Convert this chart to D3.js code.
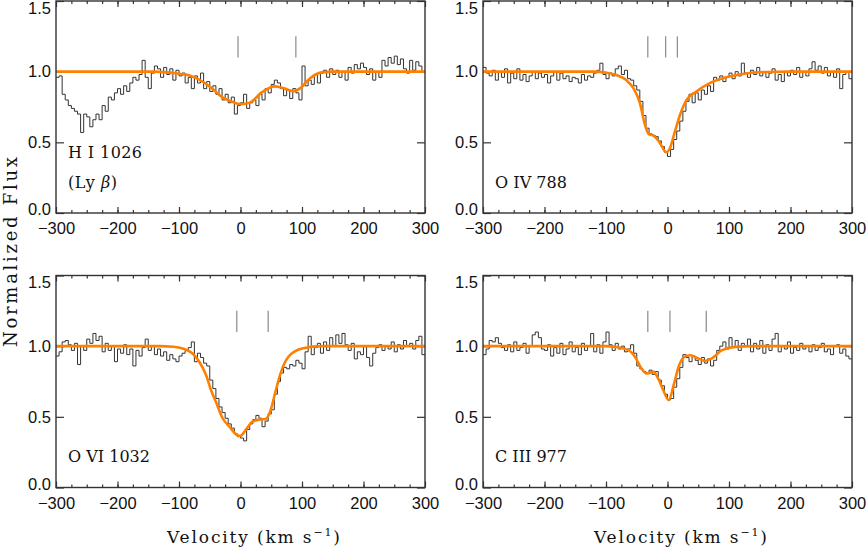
<!DOCTYPE html>
<html>
<head>
<meta charset="utf-8">
<script src="https://d3js.org/d3.v7.min.js"></script>
<style>
  body { margin: 0; background: #fff; }
  svg { display: block; }
</style>
</head>
<body>
<svg width="867" height="550"></svg>
<script>
// velocity bins (left edge, km/s), 5 km/s wide
var velocity = d3.range(-300, 300, 5);

var hiFlux = [0.96,0.97,0.84,0.80,0.76,0.74,0.72,0.70,0.57,0.70,0.68,0.61,0.66,0.70,0.66,0.76,0.72,0.82,0.80,0.85,
  0.88,0.84,0.90,0.86,0.92,0.96,0.94,0.98,1.08,0.96,0.88,0.99,1.04,1.02,0.96,1.03,0.98,1.02,0.94,1.01,
  0.97,0.99,0.92,0.96,0.88,0.97,0.92,0.99,0.88,0.93,0.86,0.90,0.84,0.88,0.80,0.84,0.78,0.82,0.70,0.76,
  0.78,0.84,0.74,0.78,0.80,0.76,0.84,0.80,0.88,0.85,0.91,0.94,0.92,0.88,0.83,0.87,0.81,0.88,0.85,0.80,
  1.04,0.90,0.94,0.91,0.98,0.92,0.99,1.01,0.96,1.02,0.98,1.01,0.96,1.00,0.94,1.03,0.99,1.05,1.02,1.06,
  1.03,0.98,1.02,0.94,1.00,0.96,1.08,1.04,1.10,1.06,1.11,1.05,1.09,1.02,0.99,1.08,1.01,1.07,1.04,1.00];

var oivFlux = [1.03,0.99,0.97,1.01,0.94,1.00,0.96,1.02,0.92,0.99,0.95,1.02,0.94,0.98,0.93,0.97,1.00,0.95,0.99,0.96,
  0.98,0.92,0.97,1.00,0.94,0.99,0.95,0.97,0.93,0.96,0.95,0.92,0.98,0.94,0.97,0.96,0.99,1.01,1.06,0.98,
  0.95,0.99,0.97,1.02,1.04,0.98,1.01,0.95,0.94,0.90,0.87,0.79,0.69,0.60,0.56,0.55,0.54,0.51,0.47,0.43,
  0.40,0.45,0.52,0.58,0.65,0.72,0.79,0.84,0.78,0.85,0.80,0.87,0.84,0.90,0.86,0.96,0.94,0.97,0.93,0.96,
  0.99,0.95,1.00,0.97,1.06,0.99,0.96,1.01,0.98,1.03,0.97,1.00,0.96,0.99,1.02,0.94,0.98,0.93,1.00,0.97,
  1.01,0.98,1.03,0.96,1.00,0.97,1.02,1.07,1.01,1.04,0.99,1.03,0.97,1.00,0.96,1.02,0.88,0.98,1.00,0.95];

var oviFlux = [0.93,0.96,1.03,1.04,1.01,0.97,1.02,0.87,1.00,0.97,1.05,1.02,1.09,1.04,1.07,0.96,1.02,0.97,1.00,0.89,
  0.98,0.95,1.01,0.94,0.98,0.86,0.97,0.93,0.99,1.05,0.97,1.00,0.94,0.98,0.93,0.96,0.90,0.94,0.91,0.89,
  0.93,0.95,0.97,0.99,1.03,0.89,0.95,0.92,0.88,0.86,0.76,0.70,0.63,0.57,0.53,0.49,0.45,0.42,0.38,0.36,
  0.35,0.33,0.41,0.45,0.48,0.51,0.49,0.43,0.47,0.52,0.55,0.66,0.75,0.81,0.85,0.84,0.87,0.86,0.90,0.88,
  0.84,0.96,1.07,0.94,0.99,1.02,0.95,1.03,0.97,1.06,1.00,1.08,1.02,1.09,1.01,0.97,1.02,0.91,0.96,0.94,
  1.00,0.92,0.86,0.95,0.99,1.01,0.97,1.00,0.98,1.03,0.96,1.01,0.98,1.04,1.00,1.02,0.98,1.04,1.07,0.94];

var ciiiFlux = [0.94,0.98,1.04,1.03,1.06,1.02,0.99,0.97,1.01,0.96,1.03,0.97,0.99,1.02,0.95,1.00,1.08,1.10,1.06,0.98,
  0.97,1.01,0.93,0.99,0.95,1.02,0.94,0.98,1.03,0.96,0.99,0.94,1.02,0.97,1.00,1.09,0.96,1.01,0.95,1.03,
  1.10,1.01,0.97,1.02,0.98,1.00,0.96,0.98,1.01,0.95,0.86,0.84,0.82,0.81,0.83,0.80,0.82,0.76,0.72,0.66,
  0.62,0.63,0.71,0.77,0.85,0.94,0.92,0.89,0.93,0.90,0.87,0.92,0.88,0.91,0.86,0.90,0.97,1.00,1.03,0.98,
  1.06,0.99,1.04,0.97,1.02,1.00,1.05,0.96,1.02,0.98,1.04,0.95,1.01,0.97,1.05,1.09,0.96,1.00,0.98,1.03,
  0.95,0.99,0.97,1.02,0.98,1.00,0.96,1.01,0.97,0.99,1.02,0.96,0.98,0.94,1.00,1.01,0.95,0.98,0.93,0.91];

// profile fits, [velocity, flux]
var hiFit = [[-300,1],[-140,1],[-120,0.995],[-100,0.985],[-84,0.974],[-60,0.925],[-46,0.88],[-30,0.82],[-15,0.79],
  [0,0.77],[15,0.78],[35,0.855],[56,0.896],[72,0.88],[86,0.862],[98,0.885],[111,0.945],[122,0.98],[132,0.995],[150,1],[300,1]];
var oivFit = [[-300,1],[-120,1],[-100,0.993],[-83,0.976],[-67,0.94],[-55,0.88],[-45,0.78],[-37,0.63],[-31,0.56],
  [-22,0.545],[-13,0.5],[-2,0.43],[3,0.45],[12,0.575],[20,0.69],[31,0.80],[47,0.86],[68,0.917],[90,0.953],[117,0.98],[160,0.998],[200,1],[300,1]];
var oviFit = [[-300,1],[-130,1],[-110,0.996],[-94,0.984],[-78,0.948],[-67,0.89],[-56,0.795],[-48,0.69],[-40,0.606],
  [-29,0.49],[-18,0.43],[-5,0.37],[0,0.365],[8,0.405],[19,0.465],[30,0.48],[41,0.485],[49,0.547],[57,0.68],[65,0.806],[78,0.925],[100,0.983],[133,1],[300,1]];
var ciiiFit = [[-300,1],[-100,1],[-85,0.995],[-63,0.97],[-53,0.925],[-42,0.84],[-34,0.807],[-23,0.818],[-15,0.77],
  [-7,0.69],[2,0.618],[10,0.724],[18,0.853],[26,0.92],[37,0.936],[50,0.913],[61,0.896],[72,0.913],[88,0.97],[110,0.995],[142,1],[300,1]];

// component velocities
var hiComps = [-4, 90];
var oivComps = [-32, -3, 16];
var oviComps = [-6, 45];
var ciiiComps = [-32, 4, 63];

var xTicks = [-300, -200, -100, 0, 100, 200, 300];
var yTicks = [0, 0.5, 1.0, 1.5];

var panels = [
  { flux: hiFlux, fit: hiFit, comps: hiComps, col: 0, row: 0,
    labels: [{ text: "H I 1026", y: 0.39, len: 74 }, { text: "(Ly ", greek: "\u03b2", tail: ")", y: 0.18, len: 49 }] },
  { flux: oivFlux, fit: oivFit, comps: oivComps, col: 1, row: 0,
    labels: [{ text: "O IV 788", y: 0.18, len: 72 }] },
  { flux: oviFlux, fit: oviFit, comps: oviComps, col: 0, row: 1,
    labels: [{ text: "O VI 1032", y: 0.18, len: 82 }] },
  { flux: ciiiFlux, fit: ciiiFit, comps: ciiiComps, col: 1, row: 1,
    labels: [{ text: "C III 977", y: 0.18, len: 72 }] }
];

var svg = d3.select("svg"),
    colX = [56, 483],
    rowY = [1, 275.5],
    pw = 369,
    ph = 212;

var x = d3.scaleLinear().domain([-300, 300]).range([0, pw]);
var y = d3.scaleLinear().domain([0, 1.5]).range([ph, 0]);

var serif = "'DejaVu Serif', serif",
    sans = "'Liberation Sans', Arial, sans-serif";

svg.append("defs").append("clipPath").attr("id", "clip")
  .append("rect").attr("width", pw).attr("height", ph);

var histLine = d3.line()
  .x(function (d) { return x(d[0]); })
  .y(function (d) { return y(d[1]); })
  .curve(d3.curveStepAfter);

var fitLine = d3.line()
  .x(function (d) { return x(d[0]); })
  .y(function (d) { return y(d[1]); })
  .curve(d3.curveMonotoneX);

panels.forEach(drawPanel);

function drawPanel(p) {
  var g = svg.append("g").attr("transform", "translate(" + colX[p.col] + "," + rowY[p.row] + ")");

  // axes, ticks inward on all four sides
  g.append("g").attr("transform", "translate(0," + ph + ")")
    .call(d3.axisBottom(x).tickValues(xTicks).tickSize(-6).tickPadding(9.5).tickFormat(d3.format("d")));
  g.append("g").attr("transform", "translate(0," + ph + ")")
    .call(d3.axisBottom(x).tickValues(d3.range(-275, 300, 25)).tickSize(-3).tickFormat(""));
  g.append("g").call(d3.axisTop(x).tickValues(xTicks).tickSize(-6).tickFormat(""));
  g.append("g").call(d3.axisTop(x).tickValues(d3.range(-275, 300, 25)).tickSize(-3).tickFormat(""));
  var left = g.append("g")
    .call(d3.axisLeft(y).tickValues(yTicks).tickSize(-8).tickPadding(5).tickFormat(d3.format(".1f")));
  g.append("g").attr("transform", "translate(" + pw + ",0)")
    .call(d3.axisRight(y).tickValues(yTicks).tickSize(-8).tickFormat(""));

  g.selectAll(".domain").remove();
  g.selectAll(".tick line").attr("stroke", "#333").attr("stroke-width", 1.2);
  g.selectAll(".tick text").attr("fill", "#111").style("font-family", sans).style("font-size", "16.5px");
  // end labels sit a little inside the frame, as in the original
  left.selectAll(".tick text").attr("y", function (d) { return d === 1.5 ? 7 : d === 0 ? -3.5 : 0; });

  var data = p.flux.map(function (f, i) { return [velocity[i], f]; });
  data.push([300, p.flux[p.flux.length - 1]]);

  var plot = g.append("g").attr("clip-path", "url(#clip)");
  plot.append("path").datum(data)
    .attr("d", histLine)
    .attr("fill", "none")
    .attr("stroke", "#333")
    .attr("stroke-width", 1);

  plot.append("path").datum(p.fit)
    .attr("d", fitLine)
    .attr("fill", "none")
    .attr("stroke", "#ff8000")
    .attr("stroke-width", 2.6);

  g.selectAll(".comp").data(p.comps).enter().append("line")
    .attr("x1", function (d) { return x(d); })
    .attr("x2", function (d) { return x(d); })
    .attr("y1", y(1.10))
    .attr("y2", y(1.25))
    .attr("stroke", "#8a8a8a")
    .attr("stroke-width", 1.2);

  // frame
  g.append("rect").attr("width", pw).attr("height", ph)
    .attr("fill", "none").attr("stroke", "#333").attr("stroke-width", 1.4);

  p.labels.forEach(function (l) {
    var t = g.append("text")
      .attr("x", 12)
      .attr("y", y(l.y))
      .attr("textLength", l.len)
      .attr("lengthAdjust", "spacing")
      .style("font-family", serif)
      .style("font-size", "16px")
      .attr("fill", "#111")
      .text(l.text);
    if (l.greek) {
      t.append("tspan").style("font-style", "italic").text(l.greek);
      t.append("tspan").text(l.tail);
    }
  });

  if (p.row === 1) {
    var xt = g.append("text")
      .attr("x", 111)
      .attr("y", ph + 55.5)
      .attr("textLength", 173)
      .attr("lengthAdjust", "spacing")
      .style("font-family", serif)
      .style("font-size", "17px")
      .attr("fill", "#111")
      .text("Velocity (km s");
    xt.append("tspan").attr("dy", -7).style("font-size", "11px").text("\u22121");
    xt.append("tspan").attr("dy", 7).text(")");
  }
}

svg.append("text")
  .attr("transform", "translate(16.7,252) rotate(-90)")
  .attr("text-anchor", "middle")
  .attr("textLength", 190)
  .attr("lengthAdjust", "spacing")
  .style("font-family", serif)
  .style("font-size", "18px")
  .attr("fill", "#111")
  .text("Normalized Flux");
</script>
</body>
</html>
